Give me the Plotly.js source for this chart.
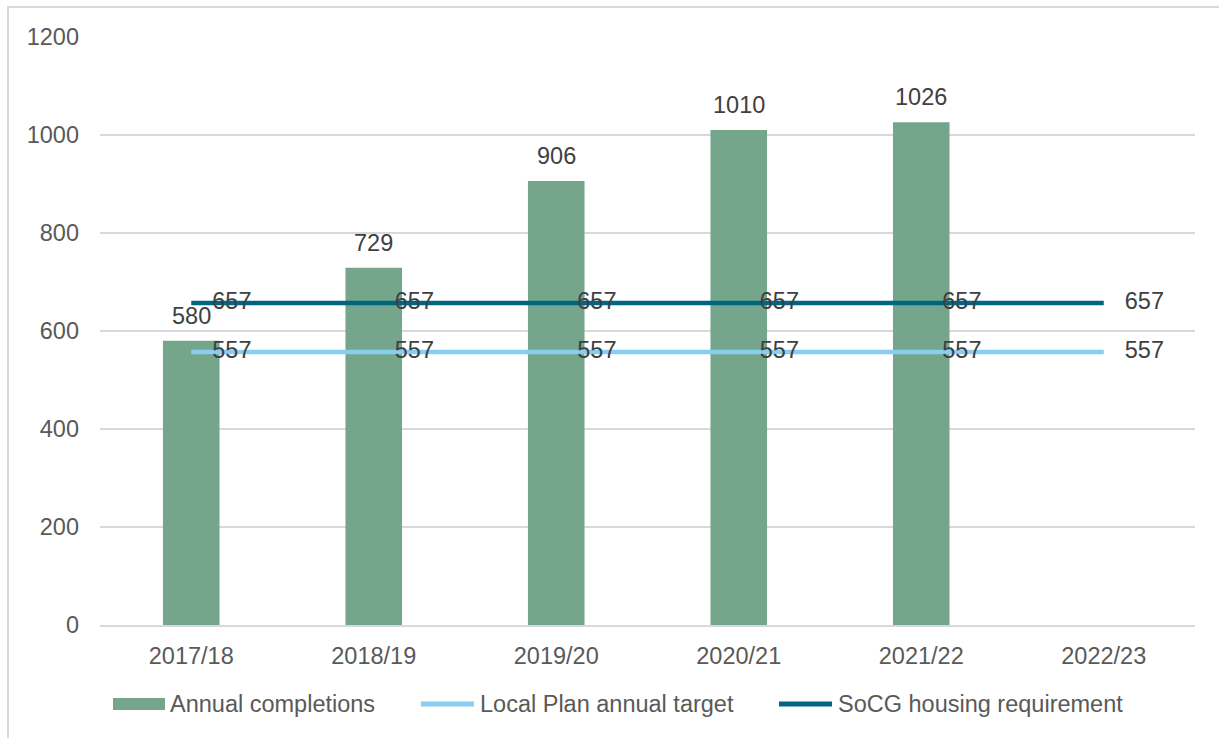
<!DOCTYPE html>
<html><head><meta charset="utf-8">
<script src="https://cdn.plot.ly/plotly-3.0.1.min.js"></script>
<style>
body{margin:0;background:#fff;overflow:hidden;}
#wrap{position:relative;width:1219px;height:738px;overflow:hidden;}
#chart{width:1219px;height:738px;}
#frame{position:absolute;left:7px;top:6px;width:1230px;height:750px;border:2px solid #d9d9d9;box-sizing:border-box;pointer-events:none;}
</style></head>
<body>
<div id="wrap"><div id="chart"></div><div id="frame"></div></div>
<script>
const categories = ['2017/18','2018/19','2019/20','2020/21','2021/22','2022/23'];
const annualCompletions = [580, 729, 906, 1010, 1026, null];
const localPlanTarget = [557, 557, 557, 557, 557, 557];
const socgRequirement = [657, 657, 657, 657, 657, 657];
const yTicks = [0, 200, 400, 600, 800, 1000, 1200];
const seriesNames = ['Annual completions', 'Local Plan annual target', 'SoCG housing requirement'];
const seriesColors = ['#75a68c', '#87cef2', '#006580'];

const FONT = 'Liberation Sans, Arial, sans-serif';
const FS = 23.5;

const traces = [
  {
    type: 'bar', name: seriesNames[0], x: categories, y: annualCompletions,
    marker: {color: seriesColors[0]}, width: 0.31, showlegend: false
  },
  {
    type: 'scatter', mode: 'lines+markers+text', name: seriesNames[1],
    x: categories, y: localPlanTarget,
    line: {color: seriesColors[1], width: 4.5},
    marker: {size: 32, color: 'rgba(0,0,0,0)'},
    text: localPlanTarget.map(String), textposition: 'middle right',
    textfont: {family: FONT, size: FS, color: '#404040'}, cliponaxis: false, showlegend: false
  },
  {
    type: 'scatter', mode: 'lines+markers+text', name: seriesNames[2],
    x: categories, y: socgRequirement,
    line: {color: seriesColors[2], width: 4.5},
    marker: {size: 32, color: 'rgba(0,0,0,0)'},
    text: socgRequirement.map(String), textposition: 'middle right',
    textfont: {family: FONT, size: FS, color: '#404040'}, cliponaxis: false, showlegend: false
  }
];

// bar value labels
const annotations = [];
categories.forEach((c, i) => {
  if (annualCompletions[i] != null) {
    annotations.push({
      x: c, y: annualCompletions[i], xref: 'x', yref: 'y', text: String(annualCompletions[i]),
      showarrow: false, yanchor: 'bottom', yshift: 10,
      font: {family: FONT, size: FS, color: '#404040'}
    });
  }
});

// custom legend (pixel -> paper helpers)
const L = 100, R = 1195, T = 37, B = 625;
const px = v => (v - L) / (R - L);
const py = v => (B - v) / (B - T);
const legY = 704;
const shapes = [
  {type: 'rect', xref: 'paper', yref: 'paper', x0: px(113), x1: px(165), y0: py(710), y1: py(698),
   fillcolor: seriesColors[0], line: {width: 0}},
  {type: 'line', xref: 'paper', yref: 'paper', x0: px(421), x1: px(474), y0: py(legY), y1: py(legY),
   line: {color: seriesColors[1], width: 5}},
  {type: 'line', xref: 'paper', yref: 'paper', x0: px(779), x1: px(832), y0: py(legY), y1: py(legY),
   line: {color: seriesColors[2], width: 5}}
];
[[168, 0], [478, 1], [836, 2]].forEach(([xpx, k]) => {
  annotations.push({
    xref: 'paper', yref: 'paper', x: px(xpx), y: py(legY), xanchor: 'left', yanchor: 'middle',
    text: seriesNames[k], showarrow: false, font: {family: FONT, size: FS, color: '#595959'}
  });
});

const layout = {
  width: 1219, height: 738,
  margin: {l: 100, r: 24, t: 37, b: 113},
  paper_bgcolor: '#fff', plot_bgcolor: '#fff',
  font: {family: FONT, size: FS, color: '#595959'},
  showlegend: false,
  xaxis: {
    type: 'category', tickvals: categories, showgrid: false, showline: true,
    linecolor: '#d9d9d9', linewidth: 1.5, ticks: '', ticklabelstandoff: 9,
    tickfont: {family: FONT, size: FS, color: '#595959'}, fixedrange: true
  },
  yaxis: {
    range: [0, 1200], tickvals: yTicks, ticktext: yTicks.map(String),
    showgrid: true, gridcolor: '#d9d9d9', gridwidth: 1.5, zeroline: false,
    showline: false, ticks: '', ticklabelstandoff: 20,
    tickfont: {family: FONT, size: FS, color: '#595959'}, fixedrange: true
  },
  shapes: shapes,
  annotations: annotations
};

Plotly.newPlot('chart', traces, layout, {displayModeBar: false, staticPlot: true});
</script>
</body></html>
